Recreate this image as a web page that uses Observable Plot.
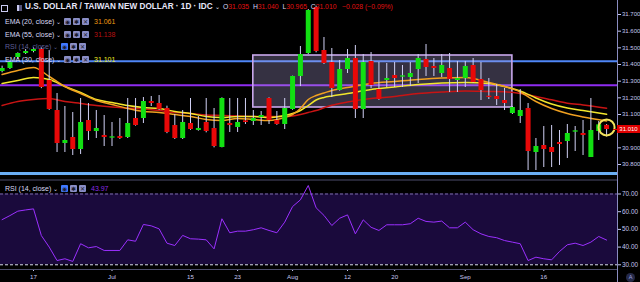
<!DOCTYPE html>
<html><head><meta charset="utf-8">
<script src="https://cdn.jsdelivr.net/npm/d3@7"></script>
<script src="https://cdn.jsdelivr.net/npm/@observablehq/plot@0.6"></script>
<style>
html,body{margin:0;padding:0;background:#000;}
#wrap{position:relative;width:640px;height:282px;overflow:hidden;background:#000;font-family:"Liberation Sans",Arial,sans-serif;}
#wrap svg{display:block;}
.ov{position:absolute;white-space:nowrap;line-height:1;}
.ico{position:absolute;width:7px;height:7px;background:#8a8ec6;border-radius:1px;color:#1c1c30;font-size:6px;line-height:7px;text-align:center;font-family:"DejaVu Sans",sans-serif;font-weight:bold;}
</style></head><body><div id="wrap"></div>
<script>
// ---------- data ----------
const dates = [
"2019-06-11","2019-06-12","2019-06-13","2019-06-14",
"2019-06-17","2019-06-18","2019-06-19","2019-06-20","2019-06-21",
"2019-06-24","2019-06-25","2019-06-26","2019-06-27","2019-06-28",
"2019-07-01","2019-07-02","2019-07-03","2019-07-04","2019-07-05",
"2019-07-08","2019-07-09","2019-07-10","2019-07-11","2019-07-12",
"2019-07-15","2019-07-16","2019-07-17","2019-07-18","2019-07-19",
"2019-07-22","2019-07-23","2019-07-24","2019-07-25","2019-07-26",
"2019-07-29","2019-07-30","2019-07-31","2019-08-01","2019-08-02",
"2019-08-05","2019-08-06","2019-08-07","2019-08-08","2019-08-09",
"2019-08-12","2019-08-13","2019-08-14","2019-08-15","2019-08-16",
"2019-08-19","2019-08-20","2019-08-21","2019-08-22","2019-08-23",
"2019-08-26","2019-08-27","2019-08-28","2019-08-29","2019-08-30",
"2019-09-02","2019-09-03","2019-09-04","2019-09-05","2019-09-06",
"2019-09-09","2019-09-10","2019-09-11","2019-09-12","2019-09-13",
"2019-09-16","2019-09-17","2019-09-18","2019-09-19","2019-09-20",
"2019-09-23","2019-09-24","2019-09-25","2019-09-26"];
const open = [
31.358,31.376,31.442,31.466,
31.478,31.49,31.304,31.124,30.926,
30.962,30.89,31.064,30.998,30.974,
30.958,30.968,30.962,31.076,31.076,
31.178,31.166,31.136,31.034,30.956,
31.046,31.004,31.052,31.016,30.902,
31.046,31.022,31.062,31.058,31.082,
31.196,31.064,31.04,31.13,31.328,
31.466,31.742,31.484,31.412,31.244,
31.37,31.436,31.13,31.418,31.25,
31.304,31.334,31.324,31.322,31.37,
31.43,31.388,31.346,31.376,31.304,
31.316,31.394,31.31,31.21,31.208,
31.184,31.106,31.088,31.136,30.872,
30.914,30.902,30.932,30.938,30.994,
30.986,30.842,30.998,31.035];
const high = [
31.39,31.42,31.47,31.49,
31.50,31.50,31.484,31.226,31.148,
31.112,31.196,31.166,31.124,31.094,
31.052,31.076,31.196,31.196,31.202,
31.208,31.214,31.15,31.1,31.124,
31.196,31.088,31.196,31.136,31.2,
31.196,31.196,31.196,31.124,31.118,
31.2,31.118,31.196,31.33,31.508,
31.73,31.75,31.562,31.496,31.424,
31.49,31.514,31.46,31.472,31.412,
31.406,31.412,31.394,31.412,31.46,
31.52,31.436,31.46,31.466,31.418,
31.418,31.436,31.412,31.316,31.28,
31.256,31.148,31.25,31.166,30.956,
31.028,31.034,31.004,31.04,31.028,
31.064,31.196,31.058,31.04];
const low = [
31.35,31.37,31.43,31.46,
31.47,31.255,31.125,30.872,30.872,
30.854,30.86,30.944,30.956,30.908,
30.908,30.95,30.956,31.03,31.046,
31.148,31.125,30.985,30.95,30.95,
31.005,31.0,30.99,30.9,30.9,
30.992,30.992,31.04,31.034,31.034,
31.04,31.035,31.01,31.125,31.268,
31.46,31.47,31.40,31.202,31.24,
31.346,31.076,31.076,31.256,31.185,
31.262,31.262,31.262,31.268,31.286,
31.328,31.328,31.322,31.232,31.232,
31.262,31.288,31.184,31.19,31.154,
31.124,31.1,31.046,30.764,30.764,
30.782,30.782,30.794,30.836,30.878,
30.854,30.842,30.944,30.965];
const close = [
31.376,31.412,31.466,31.478,
31.49,31.262,31.13,30.926,30.944,
30.89,31.052,30.998,31.016,30.962,
30.966,30.956,31.046,31.034,31.178,
31.166,31.13,30.992,30.956,31.052,
31.01,31.016,30.998,30.908,31.196,
31.034,31.052,31.052,31.076,31.094,
31.064,31.04,31.136,31.328,31.46,
31.724,31.478,31.406,31.256,31.37,
31.436,31.13,31.412,31.274,31.19,
31.316,31.316,31.332,31.346,31.436,
31.382,31.376,31.394,31.31,31.316,
31.388,31.292,31.244,31.202,31.19,
31.166,31.142,31.124,30.878,30.908,
30.89,30.872,30.92,30.986,31.002,
30.974,31.004,31.038,31.01];

const emaDates = ["2019-06-11","2019-06-13","2019-06-17","2019-06-19","2019-06-21","2019-06-25","2019-06-27","2019-07-01","2019-07-03","2019-07-05","2019-07-09","2019-07-11","2019-07-15","2019-07-17","2019-07-19","2019-07-23","2019-07-25","2019-07-29","2019-07-31","2019-08-01","2019-08-02","2019-08-05","2019-08-06","2019-08-07","2019-08-08","2019-08-12","2019-08-15","2019-08-20","2019-08-23","2019-08-28","2019-09-02","2019-09-05","2019-09-09","2019-09-11","2019-09-13","2019-09-17","2019-09-19","2019-09-23","2019-09-26"];
const ema20 = [31.340,31.364,31.382,31.328,31.268,31.226,31.184,31.160,31.136,31.118,31.112,31.100,31.088,31.070,31.064,31.076,31.070,31.064,31.082,31.100,31.136,31.190,31.214,31.229,31.244,31.262,31.286,31.298,31.310,31.319,31.322,31.292,31.268,31.235,31.178,31.136,31.106,31.085,31.061];
const ema30 = [31.286,31.304,31.322,31.310,31.268,31.232,31.190,31.172,31.154,31.142,31.136,31.118,31.106,31.088,31.082,31.088,31.088,31.082,31.094,31.106,31.124,31.154,31.187,31.202,31.211,31.226,31.250,31.265,31.280,31.289,31.292,31.286,31.268,31.241,31.199,31.163,31.139,31.124,31.101];
const ema55 = [31.154,31.178,31.190,31.196,31.178,31.166,31.154,31.145,31.139,31.133,31.124,31.112,31.106,31.097,31.094,31.091,31.088,31.088,31.088,31.091,31.100,31.112,31.124,31.140,31.155,31.175,31.196,31.208,31.226,31.235,31.241,31.238,31.236,31.226,31.208,31.188,31.168,31.157,31.138];

const rsi14 = [
55.5,57.8,60.3,61,
61.6,46.5,40,32.4,33.4,
31.9,41.9,39.6,40.3,38.1,
38.1,38.1,44.1,43.3,52.8,
52,50.3,42.2,40.9,46.6,
44.7,44.5,44.1,39,56,
48.1,49,49,49.8,50.9,
49.4,48.1,54.1,62.9,66.7,
74.8,62.2,57.9,52.2,56.3,
58.2,47.5,55.4,51.2,49.4,
52.6,52.6,52.6,53.2,56.3,
54.5,54.1,54.7,50.9,50.9,
54.1,49.8,47.5,46,45.3,
43.7,42.8,41.9,32.4,34.3,
33.4,32.8,37.5,41.3,42.2,
40.9,42.8,46,43.97];

const levelResist = [31.42];
const levelMid = [31.275];
const levelSupport = [30.746];
const boxDates = ["2019-07-25","2019-09-10"];
const boxPrices = [31.142,31.454];
const rsiBands = [30,70];
const priceTicks = [30.8,30.9,31.1,31.2,31.3,31.4,31.5,31.6,31.7];
const rsiTicks = [30,40,50,60,70];
const tickDates = ["2019-06-17","2019-07-01","2019-07-15","2019-07-23","2019-08-01","2019-08-12","2019-08-20","2019-09-02","2019-09-16"];
const tickLabels = ["17","Jul","15","23","Aug","12","20","Sep","16"];

// ---------- build ----------
const idx = d => dates.indexOf(d);
const candles = dates.map((d,i)=>({i, date:d, open:open[i], high:high[i], low:low[i], close:close[i]}));
const up = candles.filter(c=>c.close>=c.open);
const down = candles.filter(c=>c.close<c.open);
const emaRows = emaDates.map((d,j)=>({i:idx(d), e20:ema20[j], e30:ema30[j], e55:ema55[j]}));
const rsiRows = dates.map((d,i)=>({i, v:rsi14[i]}));
const last = candles[candles.length-1];
const prev = candles[candles.length-2];
const tickIdx = tickDates.map(idx);

const W=640, MR=23;
const xDomain=[-0.204, 78.39];
const yDomain=[30.71, 31.784];
const rsiDomain=[27.34, 78.19];
const FONT='"Liberation Sans",Arial,sans-serif';
const AX="#c4c6ee";
const GREEN="#12e012", RED="#e80808";

const price = Plot.plot({
  width:W, height:179, marginLeft:0, marginRight:MR, marginTop:0, marginBottom:0,
  style:{background:"transparent", color:AX, fontFamily:FONT, fontSize:"6px"},
  x:{domain:xDomain, axis:null},
  y:{domain:yDomain, axis:null},
  marks:[
    Plot.ruleY(levelResist, {stroke:"#4f86f7", strokeWidth:2}),
    Plot.ruleY(levelMid, {stroke:"#8e2cf0", strokeWidth:2}),
    Plot.ruleY(levelSupport, {stroke:"#6aaef5", strokeWidth:3}),
    Plot.rect([boxDates], {x1:d=>idx(d[0]), x2:d=>idx(d[1]), y1:()=>boxPrices[0], y2:()=>boxPrices[1],
      fill:"#aea2dc", fillOpacity:0.3, stroke:"#c9a8ec", strokeWidth:1.6}),
    Plot.line(emaRows, {x:"i", y:"e55", stroke:"#c81414", strokeWidth:1.5, curve:"monotone-x"}),
    Plot.line(emaRows, {x:"i", y:"e30", stroke:"#f2e62c", strokeWidth:1.5, curve:"monotone-x"}),
    Plot.line(emaRows, {x:"i", y:"e20", stroke:"#f0a020", strokeWidth:1.5, curve:"monotone-x"}),
    Plot.ruleX(candles, {x:"i", y1:"low", y2:"high", stroke:"#d0d0f4", strokeWidth:1}),
    Plot.ruleX(up, {x:"i", y1:"open", y2:"close", stroke:GREEN, strokeWidth:5}),
    Plot.ruleX(down, {x:"i", y1:"open", y2:"close", stroke:RED, strokeWidth:5}),
    Plot.dot([last], {x:"i", y:d=>(d.open+d.close)/2, r:8, stroke:"#f4e35c", strokeWidth:2, fill:"none"}),
    Plot.axisY({anchor:"right", label:null, ticks:priceTicks, tickFormat:d3.format(".3f"), tickSize:3, tickPadding:1.5}),
    Plot.ruleX([xDomain[1]], {stroke:"#8a8cc0", strokeWidth:1})
  ]
});

const rsiPlot = Plot.plot({
  width:W, height:103, marginLeft:0, marginRight:MR, marginTop:0, marginBottom:13,
  style:{background:"transparent", color:AX, fontFamily:FONT, fontSize:"6.4px"},
  x:{domain:xDomain, axis:null},
  y:{domain:rsiDomain, axis:null},
  marks:[
    Plot.rect([rsiBands], {x1:()=>xDomain[0], x2:()=>xDomain[1], y1:d=>d[0], y2:d=>d[1], fill:"#1a0a3c"}),
    Plot.ruleY([rsiBands[1]], {stroke:"#7d6db0", strokeDasharray:"3,2"}),
    Plot.ruleY([rsiBands[0]], {stroke:"#d8d8f0", strokeDasharray:"3,2"}),
    Plot.line(rsiRows, {x:"i", y:"v", stroke:"#9b30ff", strokeWidth:1}),
    Plot.axisY({anchor:"right", label:null, ticks:rsiTicks, tickFormat:d3.format(".2f"), tickSize:3, tickPadding:1.5}),
    Plot.axisX({label:null, ticks:tickIdx, tickFormat:d=>tickLabels[tickIdx.indexOf(d)], tickSize:2, tickPadding:3, fontSize:6.2}),
    Plot.ruleY([rsiDomain[0]], {stroke:"#4c4c6c"}),
    Plot.ruleY([rsiDomain[1]], {stroke:"#4c4c6c", dy:0.5}),
    Plot.ruleX([xDomain[1]], {stroke:"#8a8cc0", strokeWidth:1})
  ]
});

const wrap = document.getElementById("wrap");
wrap.appendChild(price);
wrap.appendChild(rsiPlot);

function ov(html, style){ const d=document.createElement("div"); d.className="ov"; d.innerHTML=html; Object.assign(d.style, style); wrap.appendChild(d); return d; }

// header
ov("", {left:"1px", top:"4.5px", width:"5px", height:"5px", border:"1px solid #c8c8f0"});
ov("", {left:"17px", top:"4.5px", width:"3px", height:"6px", borderLeft:"2px solid #c8c8f0", background:"#55557a"});
ov("U.S. DOLLAR / TAIWAN NEW DOLLAR · 1D · IDC <span style='font-weight:normal;font-size:6px'>⌄</span>", {left:"25px", top:"3.2px", fontSize:"8.2px", fontWeight:"bold", color:"#e6e6fa", fontFamily:FONT});
const f3 = d3.format(".3f");
const chg = last.close - prev.close;
const pct = chg/prev.close;
const vc = "#e01010", lc="#d8d8f4";
ov(`<span style="color:${lc}">O</span><span style="color:${vc}">${f3(last.open)}</span>&nbsp; <span style="color:${lc}">H</span><span style="color:${vc}">${f3(last.high)}</span>&nbsp; <span style="color:${lc}">L</span><span style="color:${vc}">${f3(last.low)}</span>&nbsp; <span style="color:${lc}">C</span><span style="color:${vc}">${f3(last.close)}</span>&nbsp;&nbsp; <span style="color:${vc}">${d3.format("+.3f")(chg).replace("-","−")} (${d3.format("+.2%")(pct).replace("-","−")})</span>`,
  {left:"223px", top:"4px", fontSize:"6.8px", fontFamily:FONT});

function legendRow(y, label, valueText, valueColor, labelColor, blue){
  ov(label+" <span style='font-size:6px'>⌄</span>", {left:"5px", top:(y-3.5)+"px", fontSize:"7px", color:labelColor, fontFamily:FONT});
  const x0 = blue ? 61 : 64;
  ["◉","✱","✕"].forEach((g,k)=>{
    const e = ov(g, {left:(x0+k*9)+"px", top:(y-3.5)+"px"});
    e.className="ov ico";
    if (blue && k===0) e.style.background="#3f78ff";
  });
  if (valueText) ov(valueText, {left:(blue?91:94)+"px", top:(y-3.5)+"px", fontSize:"7px", color:valueColor, fontFamily:FONT});
}
legendRow(21.5, "EMA (20, close)", f3(ema20[ema20.length-1]), "#ee9a12", "#d8d8f4", false);
legendRow(34, "EMA (55, close)", f3(ema55[ema55.length-1]), "#b81010", "#d8d8f4", false);
legendRow(46.5, "RSI (14, close)", "", "", "#5e5e96", true);
legendRow(59.5, "EMA (30, close)", f3(ema30[ema30.length-1]), "#f0ea20", "#d8d8f4", false);
legendRow(188.3, "RSI (14, close)", d3.format(".2f")(rsi14[rsi14.length-1]), "#8a2be2", "#d8d8f4", true);

// current price label
const ys = price.scale("y"), xs = price.scale("x");
const yc = ys.apply(last.close), xr = xs.apply(xDomain[1]);
ov(f3(last.close), {left:xr+"px", top:(yc-4.3)+"px", width:"23px", height:"8.6px", lineHeight:"8.6px", background:"#e00000", color:"#fff", fontSize:"6px", textAlign:"center", fontFamily:FONT});
ov("", {left:(xr-4)+"px", top:(yc-0.5)+"px", width:"4px", height:"1.5px", background:"#e00000"});
// axis line continuation at bottom
ov("", {left:(xr-0.5)+"px", top:"268px", width:"1px", height:"14px", background:"#8a8cc0"});
// auto-scale button
ov("A", {left:"626px", top:"272.5px", width:"9px", height:"9px", borderRadius:"50%", background:"#262a48", color:"#9aa2e0", fontSize:"5.5px", lineHeight:"9px", textAlign:"center", fontFamily:FONT});
</script></body></html>
